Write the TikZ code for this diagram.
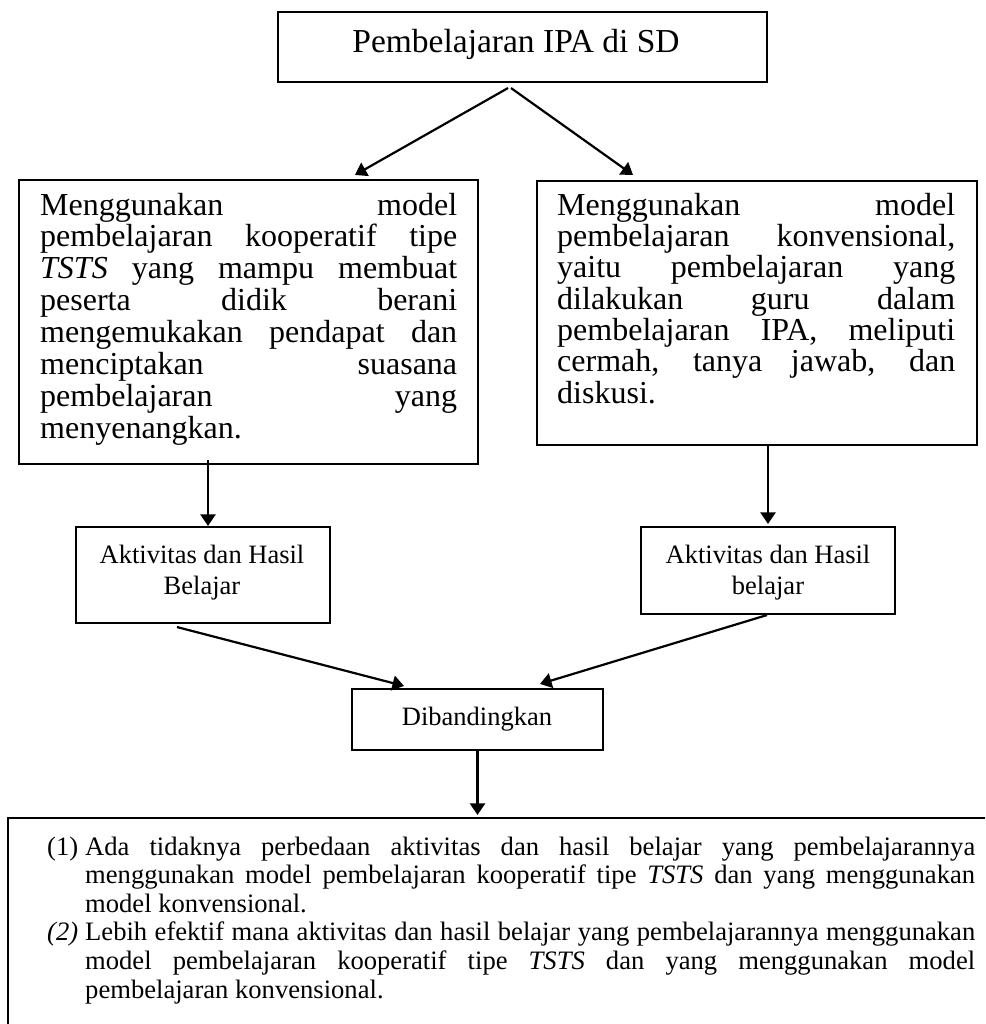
\documentclass[tikz,border=0pt]{standalone}
\usepackage{fontspec}
\setmainfont{Liberation Serif}
\usetikzlibrary{arrows.meta}
\newcommand\jline[6]{\node[tl,#6] (#1) at (#2,#3) {\makebox[#4pt][s]{#5}};}
\newcommand\pline[5]{\node[tl,#5] (#1) at (#2,#3) {#4};}
\begin{document}
\begin{tikzpicture}[x=1pt,y=-1pt,
  box/.style={draw,line width=2.1pt,inner sep=0},
  arr/.style={-{Triangle[length=11.5pt,width=15pt]},line width=2.2pt},
  tl/.style={anchor=base west,inner sep=0},
  tc/.style={anchor=base,inner sep=0},
  topf/.style={font=\fontsize{33.5}{36}\selectfont},
  bigf/.style={font=\fontsize{32}{34}\selectfont},
  smf/.style={font=\fontsize{26.5}{30}\selectfont},
  botf/.style={font=\fontsize{26.6}{30}\selectfont}]
\useasboundingbox (0,0) rectangle (985,1024);
\clip (0,0) rectangle (985,1024);
% boxes
\node[box,minimum width=489pt,minimum height=70pt] (top) at (522.5,47) {};
\node[box,minimum width=459pt,minimum height=284pt] (L) at (248.5,322) {};
\node[box,minimum width=440pt,minimum height=264pt] (R) at (757,313) {};
\node[box,minimum width=254pt,minimum height=96pt] (LA) at (203,575) {};
\node[box,minimum width=254pt,minimum height=87pt] (RA) at (768,570.5) {};
\node[box,minimum width=251pt,minimum height=61pt] (D) at (477.5,719.5) {};
\node[box,minimum width=992pt,minimum height=222pt] (B) at (504,929) {};
% texts
\node[tc,topf] (ttop) at (516,53) {Pembelajaran IPA di SD};
% left box
\jline{l1}{40}{215}{417}{Menggunakan model}{bigf}
\jline{l2}{40}{246.9}{417}{pembelajaran kooperatif tipe}{bigf}
\jline{l3}{40}{278.7}{417}{\textit{TSTS} yang mampu membuat}{bigf}
\jline{l4}{40}{310.6}{417}{peserta didik berani}{bigf}
\jline{l5}{40}{342.4}{417}{mengemukakan pendapat dan}{bigf}
\jline{l6}{40}{374.3}{417}{menciptakan suasana}{bigf}
\jline{l7}{40}{406.1}{417}{pembelajaran yang}{bigf}
\pline{l8}{40}{438}{menyenangkan.}{bigf}
% right box
\jline{r1}{557}{215}{398}{Menggunakan model}{bigf}
\jline{r2}{557}{246.3}{398}{pembelajaran konvensional,}{bigf}
\jline{r3}{557}{277.7}{398}{yaitu pembelajaran yang}{bigf}
\jline{r4}{557}{309}{398}{dilakukan guru dalam}{bigf}
\jline{r5}{557}{340.3}{398}{pembelajaran IPA, meliputi}{bigf}
\jline{r6}{557}{371.7}{398}{cermah, tanya jawab, dan}{bigf}
\pline{r7}{557}{403}{diskusi.}{bigf}
% activity boxes
\node[tc,smf] (la1) at (202,563) {Aktivitas dan Hasil};
\node[tc,smf] (la2) at (202,594) {Belajar};
\node[tc,smf] (ra1) at (768,563) {Aktivitas dan Hasil};
\node[tc,smf] (ra2) at (768,594) {belajar};
\node[tc,smf] (dt) at (477,725) {Dibandingkan};
% bottom box
\pline{b0}{47}{855}{(1)}{botf}
\jline{b1}{85}{855}{890}{Ada tidaknya perbedaan aktivitas dan hasil belajar yang pembelajarannya}{botf}
\jline{b2}{85}{883.6}{890}{menggunakan model pembelajaran kooperatif tipe \textit{TSTS} dan yang menggunakan}{botf}
\pline{b3}{85}{912.2}{model konvensional.}{botf}
\pline{b4}{47}{940.8}{\textit{(2)}}{botf}
\jline{b5}{85}{940.8}{890}{Lebih efektif mana aktivitas dan hasil belajar yang pembelajarannya menggunakan}{botf}
\jline{b6}{85}{969.4}{890}{model pembelajaran kooperatif tipe \textit{TSTS} dan yang menggunakan model}{botf}
\pline{b7}{85}{998}{pembelajaran konvensional.}{botf}
% arrows
\draw[arr] ([xshift=-14.5pt,yshift=-5pt]top.south) -- ([xshift=106.5pt,yshift=4pt]L.north);
\draw[arr] ([xshift=-11.5pt,yshift=-5pt]top.south) -- ([xshift=-124pt,yshift=5pt]R.north);
\draw[arr] ([xshift=-40.5pt,yshift=5pt]L.south) -- ([xshift=5pt]LA.north);
\draw[arr] ([xshift=11pt]R.south) -- ([yshift=2pt]RA.north);
\draw[arr] ([xshift=-26pt,yshift=-3pt]LA.south) -- ([xshift=-73.5pt,yshift=2pt]D.north);
\draw[arr] ([xshift=-1pt]RA.south) -- ([xshift=62.5pt,yshift=4pt]D.north);
\draw[arr] (D.south) -- ([yshift=2pt]D.south |- B.north);
\end{tikzpicture}
\end{document}
